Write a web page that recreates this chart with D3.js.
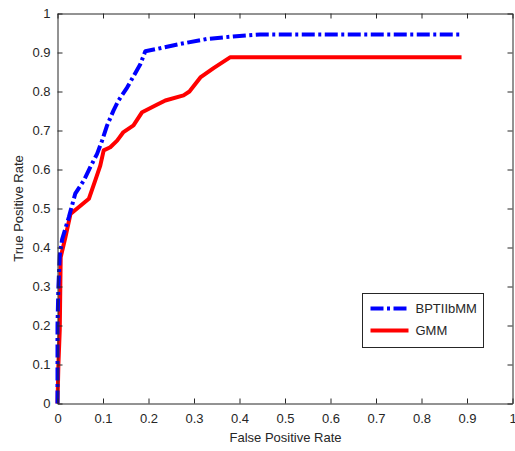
<!DOCTYPE html>
<html>
<head>
<meta charset="utf-8">
<script src="https://cdn.jsdelivr.net/npm/d3@7"></script>
<style>
  body { margin: 0; background: #fff; }
  svg text { font-family: "Liberation Sans", Arial, sans-serif; fill: #262626; }
</style>
</head>
<body>
<div class="chart"></div>
<script>
var width = 515, height = 451;
var margin = {top: 13, right: 2, bottom: 48, left: 57};

var xTicks = [0, 0.1, 0.2, 0.3, 0.4, 0.5, 0.6, 0.7, 0.8, 0.9, 1];
var yTicks = [0, 0.1, 0.2, 0.3, 0.4, 0.5, 0.6, 0.7, 0.8, 0.9, 1];

// BPTIIbMM ROC curve
var bptFpr = [0, 0, 0.002, 0.005, 0.01, 0.025, 0.039, 0.058, 0.072, 0.087, 0.098, 0.109, 0.123, 0.134, 0.153, 0.182, 0.193, 0.23, 0.27, 0.33, 0.386, 0.445, 0.6, 0.89];
var bptTpr = [0, 0.2, 0.3, 0.38, 0.42, 0.478, 0.538, 0.572, 0.606, 0.64, 0.674, 0.713, 0.751, 0.777, 0.81, 0.87, 0.903, 0.912, 0.922, 0.935, 0.941, 0.946, 0.946, 0.946];

// GMM ROC curve
var gmmFpr = [0, 0.002, 0.005, 0.007, 0.0175, 0.0285, 0.069, 0.083, 0.094, 0.1015, 0.116, 0.131, 0.145, 0.167, 0.186, 0.215, 0.237, 0.277, 0.29, 0.314, 0.343, 0.38, 0.888];
var gmmTpr = [0, 0.1, 0.19, 0.375, 0.427, 0.486, 0.525, 0.572, 0.61, 0.649, 0.657, 0.674, 0.696, 0.713, 0.747, 0.764, 0.777, 0.79, 0.8, 0.836, 0.86, 0.888, 0.888];

var seriesNames = ["BPTIIbMM", "GMM"];
var seriesColors = ["#0000ff", "#ff0000"];
var seriesDash = ["13,3.5,3,3.5", null];

var series = [
  {name: seriesNames[0], fpr: bptFpr, tpr: bptTpr, color: seriesColors[0], dash: seriesDash[0]},
  {name: seriesNames[1], fpr: gmmFpr, tpr: gmmTpr, color: seriesColors[1], dash: seriesDash[1]}
];

var plotW = width - margin.left - margin.right;
var plotH = height - margin.top - margin.bottom;

var x = d3.scaleLinear().domain([0, 1]).range([0, plotW - 1]);
var y = d3.scaleLinear().domain([0, 1]).range([plotH, 0]);

var svg = d3.select(".chart").append("svg")
  .attr("width", width)
  .attr("height", height);

var g = svg.append("g")
  .attr("transform", "translate(" + (margin.left + 0.5) + "," + (margin.top + 0.5) + ")");

var fmt = function(d) { return d === 0 || d === 1 ? String(d) : d3.format(".1f")(d); };

// curves first, so the box sits on top
var line = d3.line()
  .x(function(d) { return x(d[0]); })
  .y(function(d) { return y(d[1]); });

series.slice().reverse().forEach(function(s) {
  var pts = s.fpr.map(function(f, i) { return [f, s.tpr[i]]; });
  g.append("path")
    .datum(pts)
    .attr("fill", "none")
    .attr("stroke", s.color)
    .attr("stroke-width", 4)
    .attr("stroke-linejoin", "round")
    .attr("stroke-dasharray", s.dash)
    .attr("d", line);
});

// axes with inward ticks (matlab box style)
var axisColor = "#262626";
var xAxis = g.append("g").attr("transform", "translate(0," + plotH + ")")
  .call(d3.axisBottom(x).tickValues(xTicks).tickFormat(fmt).tickSizeInner(-5).tickSizeOuter(0).tickPadding(10));
var yAxis = g.append("g")
  .call(d3.axisLeft(y).tickValues(yTicks).tickFormat(fmt).tickSizeInner(-5).tickSizeOuter(0).tickPadding(10));
var xTop = g.append("g")
  .call(d3.axisTop(x).tickValues(xTicks).tickFormat("").tickSizeInner(-5).tickSizeOuter(0));
var yRight = g.append("g").attr("transform", "translate(" + (plotW - 1) + ",0)")
  .call(d3.axisRight(y).tickValues(yTicks).tickFormat("").tickSizeInner(-5).tickSizeOuter(0));

[xAxis, yAxis, xTop, yRight].forEach(function(a) {
  a.select(".domain").attr("stroke", axisColor);
  a.selectAll(".tick line").attr("stroke", axisColor);
  a.selectAll(".tick text").attr("font-size", 13).attr("fill", axisColor);
});
yAxis.selectAll(".tick text").attr("dx", 3);

g.append("text")
  .attr("x", plotW / 2)
  .attr("y", plotH + 38)
  .attr("text-anchor", "middle")
  .attr("font-size", 13)
  .text("False Positive Rate");

g.append("text")
  .attr("transform", "translate(" + (-35) + "," + (plotH / 2) + ") rotate(-90)")
  .attr("text-anchor", "middle")
  .attr("font-size", 13)
  .text("True Positive Rate");

// legend
var legend = g.append("g").attr("transform", "translate(" + (362 - margin.left) + "," + (293 - margin.top) + ")");
legend.append("rect")
  .attr("width", 121)
  .attr("height", 54)
  .attr("fill", "#fff")
  .attr("stroke", axisColor);
series.forEach(function(s, i) {
  var ly = 15 + i * 22;
  legend.append("line")
    .attr("x1", 8).attr("x2", 46)
    .attr("y1", ly).attr("y2", ly)
    .attr("stroke", s.color)
    .attr("stroke-width", 4)
    .attr("stroke-dasharray", s.dash);
  legend.append("text")
    .attr("x", 53)
    .attr("y", ly)
    .attr("dy", "0.35em")
    .attr("font-size", 13)
    .text(s.name);
});
</script>
</body>
</html>
